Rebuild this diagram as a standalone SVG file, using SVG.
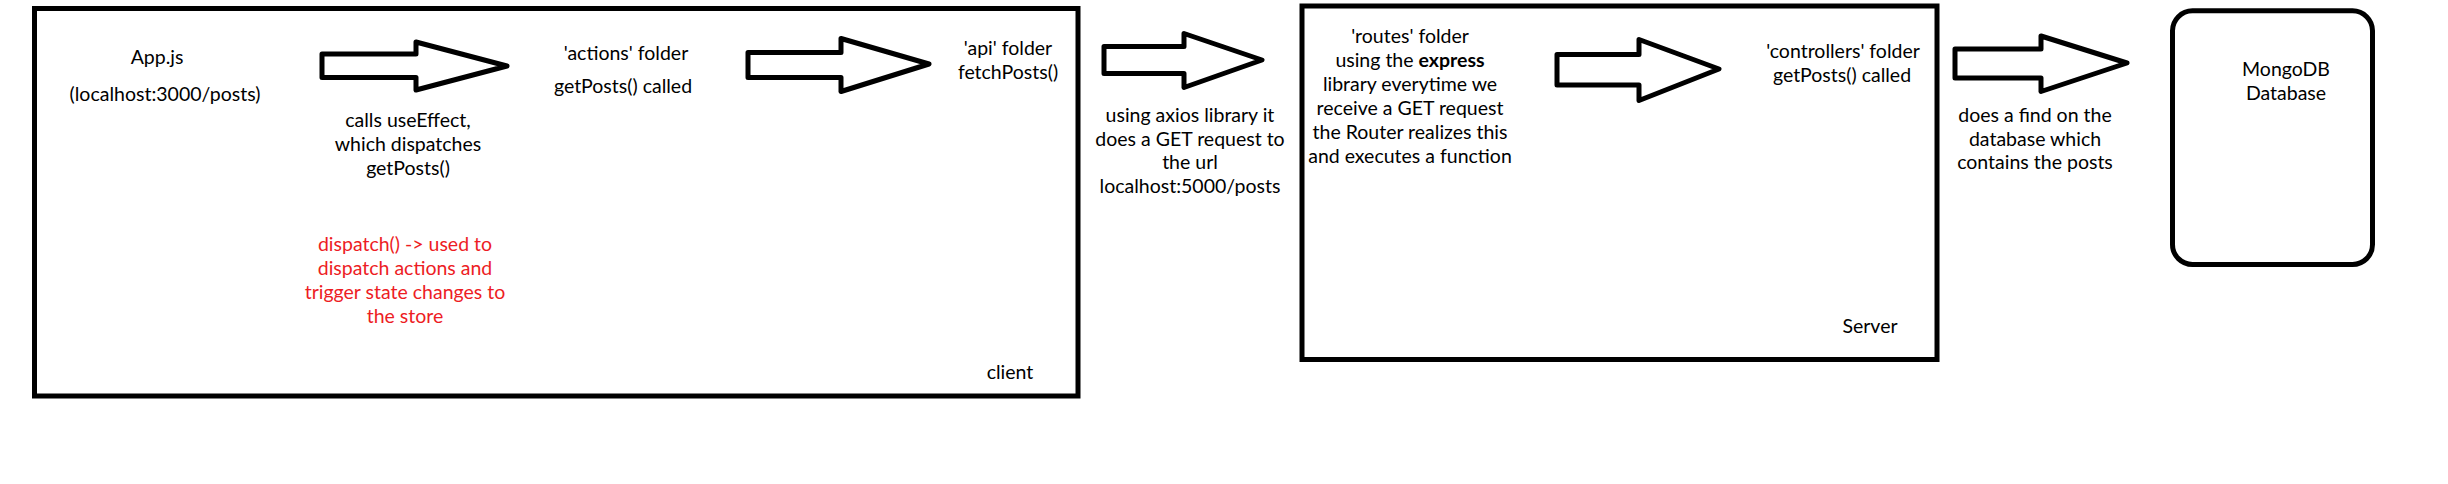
<svg xmlns="http://www.w3.org/2000/svg" width="2448" height="484" viewBox="0 0 2448 484">
<style>
.box{fill:none;stroke:#000;stroke-width:5}
.arr{fill:#fff;stroke:#000;stroke-width:5;stroke-linejoin:round}
text{font-family:Lato,"Open Sans","Liberation Sans",sans-serif;font-size:19.5px;fill:#000;text-anchor:middle}
.red{fill:#ed1c24}
</style>
<rect width="2448" height="484" fill="#fff"/>
<g id="client">
<rect class="box" x="34.5" y="8.5" width="1043.5" height="387.5"/>
<text x="1010" y="379">client</text>
</g>
<g id="appjs">
<text x="157" y="64">App.js</text>
<text x="165" y="101">(localhost:3000/posts)</text>
</g>
<g id="actions">
<text x="626" y="60">'actions' folder</text>
<text x="623" y="93">getPosts() called</text>
</g>
<g id="api">
<text x="1008" y="55">'api' folder</text>
<text x="1008" y="79">fetchPosts()</text>
</g>
<g id="server">
<rect class="box" x="1302" y="6" width="635" height="353.5"/>
<text x="1870" y="333">Server</text>
</g>
<g id="routes">
<text x="1410" y="43">'routes' folder</text>
<text x="1410" y="67">using the <tspan font-weight="bold">express</tspan></text>
<text x="1410" y="91">library everytime we</text>
<text x="1410" y="115">receive a GET request</text>
<text x="1410" y="139">the Router realizes this</text>
<text x="1410" y="163">and executes a function</text>
</g>
<g id="controllers">
<text x="1843" y="58">'controllers' folder</text>
<text x="1842" y="82">getPosts() called</text>
</g>
<g id="mongodb">
<rect class="box" x="2172.5" y="10.8" width="200" height="253.7" rx="20"/>
<text x="2286" y="76">MongoDB</text>
<text x="2286" y="100">Database</text>
</g>
<g id="connectors">
<polygon class="arr" points="322,54 416,54 416,42 507,66 416,90 416,77.5 322,77.5"/>
<polygon class="arr" points="748,52.5 841,52.5 841,38.5 929,64 841,91.5 841,77.5 748,77.5"/>
<polygon class="arr" points="1104,46.5 1184,46.5 1184,33.5 1262,60 1184,87.5 1184,73.5 1104,73.5"/>
<polygon class="arr" points="1557,54.5 1639,54.5 1639,39.5 1719,69 1639,100.5 1639,85 1557,85"/>
<polygon class="arr" points="1955,49 2041,49 2041,36 2127,63 2041,91.5 2041,78 1955,78"/>
<text x="408" y="127">calls useEffect,</text>
<text x="408" y="151">which dispatches</text>
<text x="408" y="175">getPosts()</text>
<text class="red" x="405" y="251">dispatch() -&gt; used to</text>
<text class="red" x="405" y="275">dispatch actions and</text>
<text class="red" x="405" y="299">trigger state changes to</text>
<text class="red" x="405" y="323">the store</text>
<text x="1190" y="122">using axios library it</text>
<text x="1190" y="146">does a GET request to</text>
<text x="1190" y="169">the url</text>
<text x="1190" y="193">localhost:5000/posts</text>
<text x="2035" y="122">does a find on the</text>
<text x="2035" y="146">database which</text>
<text x="2035" y="169">contains the posts</text>
</g>
</svg>
